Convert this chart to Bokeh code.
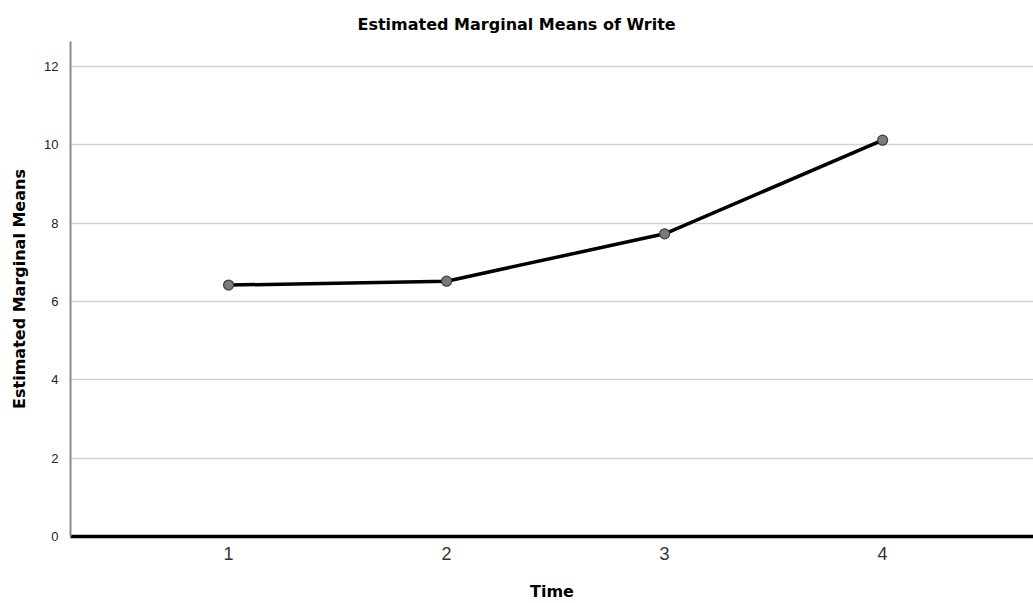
from bokeh.plotting import figure
from bokeh.models import FixedTicker, Range1d, Title
from bokeh.embed import file_html
from bokeh.resources import INLINE

time_points = [1, 2, 3, 4]
means = [6.42, 6.52, 7.73, 10.12]
y_ticks = [0, 2, 4, 6, 8, 10, 12]
x_ticks = [1, 2, 3, 4]

p = figure(width=1033, height=603, output_backend="svg", toolbar_location=None,
           x_range=Range1d(0.275, 4.692), y_range=Range1d(0, 12.64),
           min_border_left=70, min_border_right=0, min_border_top=41, min_border_bottom=66)
p.title = Title(text="Estimated Marginal Means of Write", align="left", offset=287,
                text_font="DejaVu Sans", text_font_size="16px", text_font_style="bold",
                text_color="#000000", standoff=16)
p.outline_line_color = None
p.background_fill_color = "white"
p.border_fill_color = "white"

# grid
p.xgrid.grid_line_color = None
p.ygrid.grid_line_color = "#d2d2d2"
p.ygrid.grid_line_width = 1.5
p.ygrid.ticker = FixedTicker(ticks=y_ticks)

# y axis
p.yaxis.ticker = FixedTicker(ticks=y_ticks)
p.yaxis.axis_label = "Estimated Marginal Means"
p.yaxis.axis_label_text_font = "DejaVu Sans"
p.yaxis.axis_label_text_font_size = "16px"
p.yaxis.axis_label_text_font_style = "bold"
p.yaxis.axis_label_text_color = "#000000"
p.yaxis.axis_label_standoff = 12
p.yaxis.major_label_text_font = "Liberation Sans"
p.yaxis.major_label_text_font_size = "13px"
p.yaxis.major_label_text_color = "#222222"
p.yaxis.major_label_standoff = 6
p.yaxis.major_tick_line_color = None
p.yaxis.minor_tick_line_color = None
p.yaxis.axis_line_color = "#8c8c8c"
p.yaxis.axis_line_width = 2

# x axis
p.xaxis.ticker = FixedTicker(ticks=x_ticks)
p.xaxis.axis_label = "Time"
p.xaxis.axis_label_text_font = "DejaVu Sans"
p.xaxis.axis_label_text_font_size = "16px"
p.xaxis.axis_label_text_font_style = "bold"
p.xaxis.axis_label_text_color = "#000000"
p.xaxis.axis_label_standoff = 19
p.xaxis.major_label_text_font = "Liberation Sans"
p.xaxis.major_label_text_font_size = "18px"
p.xaxis.major_label_text_color = "#333333"
p.xaxis.major_label_standoff = 4
p.xaxis.major_tick_line_color = None
p.xaxis.minor_tick_line_color = None
p.xaxis.axis_line_color = "#000000"
p.xaxis.axis_line_width = 3.5

p.line(time_points, means, line_color="#000000", line_width=3.5)
p.scatter(time_points, means, size=10, fill_color="#7a7a7a", line_color="#3c3c3c", line_width=1.2)

open("out.html", "w").write(file_html(p, INLINE))
